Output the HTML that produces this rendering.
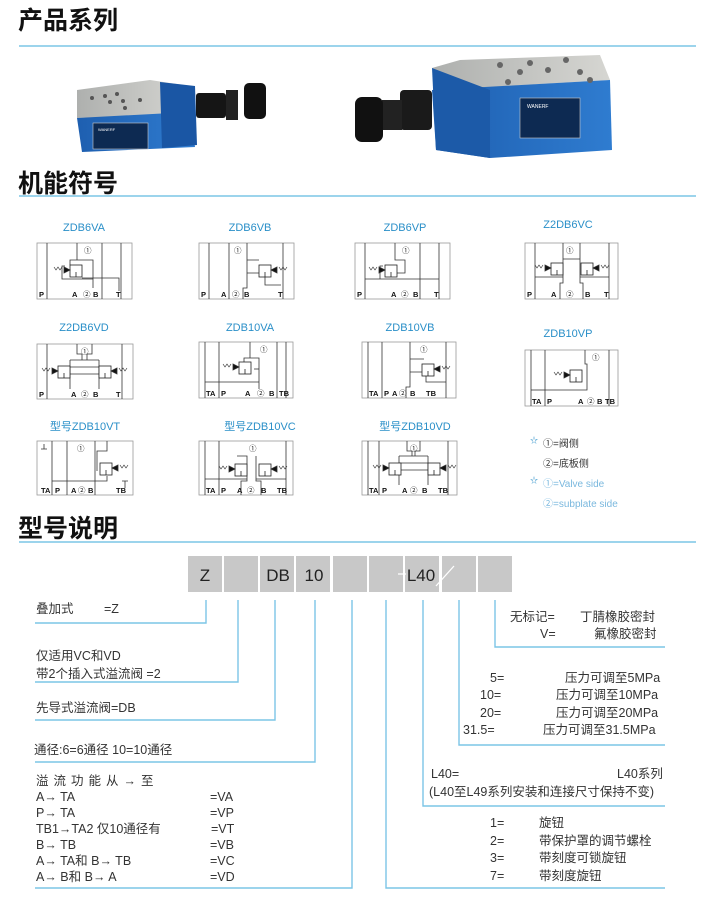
<!DOCTYPE html>
<html><head><meta charset="utf-8"><style>
html,body{margin:0;padding:0;background:#fff;}
body{width:710px;height:900px;overflow:hidden;position:relative;font-family:"Liberation Sans","Noto Sans CJK SC",sans-serif;}
svg{position:absolute;left:0;top:0;}
</style></head><body>
<svg width="710" height="900" viewBox="0 0 710 900" xmlns="http://www.w3.org/2000/svg" font-family="Liberation Sans, Noto Sans CJK SC, sans-serif">
<defs>
<linearGradient id="bl" x1="0" x2="1"><stop offset="0" stop-color="#1e5fb0"/><stop offset="1" stop-color="#2f7cd0"/></linearGradient>
<linearGradient id="gr" x1="0" x2="1"><stop offset="0" stop-color="#aeb0ae"/><stop offset="1" stop-color="#d6d6d2"/></linearGradient>
<g id="valve">
  <rect x="0" y="0" width="12" height="12" fill="#fff" stroke="#222" stroke-width="0.8"/>
  <line x1="6" y1="12" x2="6" y2="7" stroke="#222" stroke-width="0.8"/>
  <path d="M-6 2 l6 3 l-6 3z" fill="#111"/>
  <path d="M-16 2 l2 3 l2-3 l2 3 l2-3" fill="none" stroke="#222" stroke-width="0.6"/>
</g>
<g id="valveR">
  <rect x="0" y="0" width="12" height="12" fill="#fff" stroke="#222" stroke-width="0.8"/>
  <line x1="6" y1="12" x2="6" y2="7" stroke="#222" stroke-width="0.8"/>
  <path d="M18 2 l-6 3 l6 3z" fill="#111"/>
  <path d="M20 2 l2 3 l2-3 l2 3 l2-3" fill="none" stroke="#222" stroke-width="0.6"/>
</g>
</defs>

<!-- headers -->
<g font-weight="bold" fill="#111" font-size="25">
<text x="18" y="29">产品系列</text>
<text x="18" y="192">机能符号</text>
<text x="18" y="537">型号说明</text>
</g>
<g stroke="#7cc5e6" stroke-width="1.5">
<line x1="19" y1="46" x2="696" y2="46"/>
<line x1="19" y1="196" x2="696" y2="196"/>
<line x1="19" y1="542" x2="696" y2="542"/>
</g>

<!-- product left -->
<polygon points="77,90 150,80 190,86 190,115 77,118" fill="url(#gr)"/>
<polygon points="77,118 190,112 195,147 82,152" fill="url(#bl)"/>
<polygon points="160,82 195,86 197,145 162,148" fill="#1a56a4"/>
<rect x="93" y="123" width="55" height="26" fill="#0d2a52" stroke="#ccc" stroke-width="0.6"/>
<text x="98" y="131" font-size="4" fill="#fff">WANERF</text>
<rect x="196" y="93" width="30" height="25" rx="3" fill="#151515"/>
<rect x="226" y="90" width="12" height="30" fill="#222"/>
<rect x="244" y="83" width="22" height="36" rx="5" fill="#111"/>
<!-- product right -->
<polygon points="432,68 460,60 600,55 610,80 440,90" fill="url(#gr)"/>
<polygon points="432,90 610,80 612,150 490,158 436,150" fill="url(#bl)"/>
<polygon points="432,68 490,90 490,158 436,150" fill="#1c5aa8"/>
<rect x="520" y="98" width="60" height="40" fill="#0d2a52" stroke="#ccc" stroke-width="0.6"/>
<text x="527" y="108" font-size="5" fill="#fff">WANERF</text>
<rect x="400" y="90" width="32" height="40" rx="4" fill="#1a1a1a"/>
<rect x="382" y="100" width="20" height="30" fill="#222"/>
<rect x="355" y="97" width="28" height="45" rx="7" fill="#111"/>
<g fill="#666"><circle cx="500" cy="65" r="3"/><circle cx="530" cy="63" r="3"/><circle cx="520" cy="72" r="3"/><circle cx="548" cy="70" r="3"/><circle cx="580" cy="72" r="3"/><circle cx="508" cy="82" r="3"/><circle cx="590" cy="80" r="3"/><circle cx="566" cy="60" r="3"/></g>
<g fill="#555"><circle cx="92" cy="98" r="2"/><circle cx="105" cy="96" r="2"/><circle cx="117" cy="94" r="2"/><circle cx="110" cy="102" r="2"/><circle cx="123" cy="101" r="2"/><circle cx="125" cy="108" r="2"/><circle cx="140" cy="100" r="2"/></g>

<!-- symbol titles -->
<g fill="#2a8fc8" font-size="11" text-anchor="middle">
<text x="84" y="231">ZDB6VA</text>
<text x="250" y="231">ZDB6VB</text>
<text x="405" y="231">ZDB6VP</text>
<text x="568" y="228">Z2DB6VC</text>
<text x="84" y="331">Z2DB6VD</text>
<text x="250" y="331">ZDB10VA</text>
<text x="410" y="331">ZDB10VB</text>
<text x="568" y="337">ZDB10VP</text>
<text x="85" y="430">型号ZDB10VT</text>
<text x="260" y="430">型号ZDB10VC</text>
<text x="415" y="430">型号ZDB10VD</text>
</g>

<g stroke="#333" stroke-width="0.8" fill="none" font-size="7.5">
<!-- ZDB6VA -->
<g transform="translate(37,243)">
<rect width="95" height="56" stroke="#999"/><line x1="10" y1="0" x2="10" y2="56"/><line x1="65" y1="0" x2="65" y2="56"/><line x1="84" y1="0" x2="84" y2="56"/>
<path d="M40 0 V17 H56 V45 M40 17 H33 V22"/><path d="M45 35 H82 V48"/><path d="M28 23 H25 V36 H56"/>
<use href="#valve" x="33" y="22"/>
<g stroke="none" fill="#111" font-weight="bold"><text x="2" y="54">P</text><text x="35" y="54">A</text><text x="56" y="54">B</text><text x="79" y="54">T</text><text x="47" y="10" font-weight="normal">①</text><text x="46" y="54" font-weight="normal">②</text></g>
</g>
<!-- ZDB6VB -->
<g transform="translate(199,243)">
<rect width="95" height="56" stroke="#999"/><line x1="10" y1="0" x2="10" y2="56"/><line x1="30" y1="0" x2="30" y2="56"/><line x1="84" y1="0" x2="84" y2="56"/>
<path d="M48 0 V17 H60 M48 17 V45 H44 V56"/><path d="M48 30 H66 V42 H82"/>
<use href="#valveR" x="60" y="22"/>
<g stroke="none" fill="#111" font-weight="bold"><text x="2" y="54">P</text><text x="22" y="54">A</text><text x="45" y="54">B</text><text x="79" y="54">T</text><text x="35" y="10" font-weight="normal">①</text><text x="33" y="54" font-weight="normal">②</text></g>
</g>
<!-- ZDB6VP -->
<g transform="translate(355,243)">
<rect width="95" height="56" stroke="#999"/><line x1="10" y1="0" x2="10" y2="56"/><line x1="65" y1="0" x2="65" y2="56"/><line x1="84" y1="0" x2="84" y2="56"/>
<path d="M40 0 V17 H50 V30 H42"/><path d="M10 36 H84"/><path d="M28 23 H25 V36"/>
<use href="#valve" x="30" y="22"/>
<g stroke="none" fill="#111" font-weight="bold"><text x="2" y="54">P</text><text x="36" y="54">A</text><text x="58" y="54">B</text><text x="79" y="54">T</text><text x="47" y="10" font-weight="normal">①</text><text x="46" y="54" font-weight="normal">②</text></g>
</g>
<!-- Z2DB6VC -->
<g transform="translate(525,243)">
<rect width="93" height="56" stroke="#999"/><line x1="10" y1="0" x2="10" y2="56"/><line x1="84" y1="0" x2="84" y2="56"/>
<path d="M38 0 V16 H55 V0 M38 16 V40 H35 V56 M55 16 V40 H58 V56"/><path d="M10 34 H38 M55 34 H84"/>
<use href="#valve" x="26" y="20"/><use href="#valveR" x="56" y="20"/>
<g stroke="none" fill="#111" font-weight="bold"><text x="2" y="54">P</text><text x="26" y="54">A</text><text x="60" y="54">B</text><text x="79" y="54">T</text><text x="41" y="10" font-weight="normal">①</text><text x="41" y="54" font-weight="normal">②</text></g>
</g>
<!-- Z2DB6VD -->
<g transform="translate(37,344)">
<rect width="96" height="55" stroke="#999"/><line x1="10" y1="0" x2="10" y2="55"/><line x1="85" y1="0" x2="85" y2="55"/>
<path d="M40 0 V10 H45 V16 M55 0 V10 H50 V16"/><path d="M33 16 H62 M33 23 H62 M33 30 H62 V40 M33 16 V45 M62 16 V45"/>
<use href="#valve" x="21" y="22"/><use href="#valveR" x="62" y="22"/>
<g stroke="none" fill="#111" font-weight="bold"><text x="2" y="53">P</text><text x="34" y="53">A</text><text x="56" y="53">B</text><text x="79" y="53">T</text><text x="44" y="10" font-weight="normal">①</text><text x="44" y="53" font-weight="normal">②</text></g>
</g>
<!-- ZDB10VA -->
<g transform="translate(199,342)">
<rect width="94" height="56" stroke="#999"/><line x1="6" y1="0" x2="6" y2="56"/><line x1="20" y1="0" x2="20" y2="56"/><line x1="78" y1="0" x2="78" y2="56"/><line x1="87" y1="0" x2="87" y2="56"/>
<path d="M51 0 V16 H60 V47 M51 16 H45 V20"/><path d="M6 40 H60"/><path d="M60 27 H55"/>
<use href="#valve" x="40" y="20"/>
<g stroke="none" fill="#111" font-weight="bold"><text x="7" y="54">TA</text><text x="22" y="54">P</text><text x="46" y="54">A</text><text x="70" y="54">B</text><text x="80" y="54">TB</text><text x="61" y="10" font-weight="normal">①</text><text x="58" y="54" font-weight="normal">②</text></g>
</g>
<!-- ZDB10VB -->
<g transform="translate(362,342)">
<rect width="94" height="56" stroke="#999"/><line x1="6" y1="0" x2="6" y2="56"/><line x1="20" y1="0" x2="20" y2="56"/><line x1="84" y1="0" x2="84" y2="56"/>
<path d="M48 0 V17 H62 M48 17 V45 H44 V56"/><path d="M48 30 H64 V40 H84"/>
<use href="#valveR" x="60" y="22"/>
<g stroke="none" fill="#111" font-weight="bold"><text x="7" y="54">TA</text><text x="22" y="54">P</text><text x="30" y="54">A</text><text x="48" y="54">B</text><text x="64" y="54">TB</text><text x="58" y="10" font-weight="normal">①</text><text x="37" y="54" font-weight="normal">②</text></g>
</g>
<!-- ZDB10VP -->
<g transform="translate(525,350)">
<rect width="93" height="56" stroke="#999"/><line x1="6" y1="0" x2="6" y2="56"/><line x1="20" y1="0" x2="20" y2="56"/><line x1="84" y1="0" x2="84" y2="56"/>
<path d="M60 0 V14 H62 V40 H20"/><path d="M6 40 H20"/>
<use href="#valve" x="45" y="20"/>
<g stroke="none" fill="#111" font-weight="bold"><text x="7" y="54">TA</text><text x="22" y="54">P</text><text x="53" y="54">A</text><text x="72" y="54">B</text><text x="80" y="54">TB</text><text x="67" y="10" font-weight="normal">①</text><text x="62" y="54" font-weight="normal">②</text></g>
</g>
<!-- ZDB10VT -->
<g transform="translate(37,441)">
<rect width="96" height="54" stroke="#999"/><line x1="15" y1="0" x2="15" y2="54"/><line x1="30" y1="0" x2="30" y2="54"/><line x1="58" y1="0" x2="58" y2="54"/>
<path d="M7 3 V8 M4 8 H10 M88 40 V47 M85 40 H91"/><path d="M70 0 V10 H60 V30 M70 35 V40 H30 M30 40 H15"/>
<use href="#valveR" x="63" y="22"/>
<g stroke="none" fill="#111" font-weight="bold"><text x="4" y="52">TA</text><text x="18" y="52">P</text><text x="34" y="52">A</text><text x="51" y="52">B</text><text x="79" y="52">TB</text><text x="40" y="10" font-weight="normal">①</text><text x="41" y="52" font-weight="normal">②</text></g>
</g>
<!-- ZDB10VC -->
<g transform="translate(199,441)">
<rect width="94" height="54" stroke="#999"/><line x1="6" y1="0" x2="6" y2="54"/><line x1="20" y1="0" x2="20" y2="54"/><line x1="87" y1="0" x2="87" y2="54"/>
<path d="M38 15 H48 V40 H42 V54 M57 15 V40 H62 V54"/><path d="M6 38 H48 M57 38 H87"/>
<use href="#valve" x="36" y="23"/><use href="#valveR" x="60" y="23"/>
<g stroke="none" fill="#111" font-weight="bold"><text x="7" y="52">TA</text><text x="22" y="52">P</text><text x="38" y="52">A</text><text x="62" y="52">B</text><text x="78" y="52">TB</text><text x="50" y="10" font-weight="normal">①</text><text x="48" y="52" font-weight="normal">②</text></g>
</g>
<!-- ZDB10VD -->
<g transform="translate(362,441)">
<rect width="95" height="54" stroke="#999"/><line x1="6" y1="0" x2="6" y2="54"/><line x1="17" y1="0" x2="17" y2="54"/><line x1="86" y1="0" x2="86" y2="54"/>
<path d="M45 0 V10 H50 V15 M58 0 V10 H53 V15"/><path d="M37 15 H66 M37 22 H66 M37 29 H66 M37 15 V44 M66 15 V44"/>
<use href="#valve" x="27" y="22"/><use href="#valveR" x="66" y="22"/>
<g stroke="none" fill="#111" font-weight="bold"><text x="7" y="52">TA</text><text x="20" y="52">P</text><text x="40" y="52">A</text><text x="60" y="52">B</text><text x="76" y="52">TB</text><text x="48" y="10" font-weight="normal">①</text><text x="48" y="52" font-weight="normal">②</text></g>
</g>
</g>

<!-- legend -->
<g font-size="10">
<text x="530" y="443" font-size="8" fill="#2a8fc8">☆</text>
<text x="543" y="447" fill="#333">①=阀侧</text>
<text x="543" y="467" fill="#333">②=底板侧</text>
<text x="530" y="483" font-size="8" fill="#2a8fc8">☆</text>
<text x="543" y="487" fill="#7ab8de">①=Valve side</text>
<text x="543" y="507" fill="#7ab8de">②=subplate side</text>
</g>

<!-- model code boxes -->
<g fill="#c8c8c8">
<rect x="188" y="556" width="34" height="36"/><rect x="224" y="556" width="34" height="36"/><rect x="260" y="556" width="34" height="36"/><rect x="296" y="556" width="34" height="36"/><rect x="333" y="556" width="34" height="36"/><rect x="369" y="556" width="34" height="36"/><rect x="405" y="556" width="34" height="36"/><rect x="442" y="556" width="34" height="36"/><rect x="478" y="556" width="34" height="36"/>
</g>
<g font-size="17" fill="#222" text-anchor="middle">
<text x="205" y="581">Z</text><text x="278" y="581">DB</text><text x="314" y="581">10</text><text x="421" y="581">L40</text>
</g>
<path d="M398 574 H406 M436 586 L454 566" stroke="#fff" stroke-width="1.3"/>

<g stroke="#7cc5e6" stroke-width="1.4" fill="none">
<path d="M206 600 V623 H35"/>
<path d="M238 600 V682 H35"/>
<path d="M275 600 V720 H35"/>
<path d="M315 600 V762 H35"/>
<path d="M352 600 V888 H35"/>
<path d="M386 600 V888 H665"/>
<path d="M423 600 V806 H665"/>
<path d="M459 600 V745 H665"/>
<path d="M495 600 V647 H665"/>
</g>

<g font-size="12.5" fill="#333">
<text x="36" y="613">叠加式</text><text x="104" y="613">=Z</text>
<text x="36" y="660">仅适用VC和VD</text>
<text x="36" y="678">带2个插入式溢流阀  =2</text>
<text x="36" y="712">先导式溢流阀=DB</text>
<text x="34" y="754">通径:6=6通径  10=10通径</text>
<text x="36" y="785" letter-spacing="5">溢流功能从→至</text>
<text x="36" y="801">A→ TA</text><text x="210" y="801">=VA</text>
<text x="36" y="817">P→ TA</text><text x="210" y="817">=VP</text>
<text x="36" y="833">TB1→TA2   仅10通径有</text><text x="211" y="833">=VT</text>
<text x="36" y="849">B→ TB</text><text x="210" y="849">=VB</text>
<text x="36" y="865">A→ TA和 B→ TB</text><text x="210" y="865">=VC</text>
<text x="36" y="881">A→ B和 B→ A</text><text x="210" y="881">=VD</text>

<text x="510" y="621">无标记=</text><text x="580" y="621">丁腈橡胶密封</text>
<text x="540" y="638">V=</text><text x="594" y="638">氟橡胶密封</text>
<text x="490" y="682">5=</text><text x="565" y="682">压力可调至5MPa</text>
<text x="480" y="699">10=</text><text x="556" y="699">压力可调至10MPa</text>
<text x="480" y="717">20=</text><text x="556" y="717">压力可调至20MPa</text>
<text x="463" y="734">31.5=</text><text x="543" y="734">压力可调至31.5MPa</text>
<text x="431" y="778">L40=</text><text x="617" y="778">L40系列</text>
<text x="429" y="796">(L40至L49系列安装和连接尺寸保持不变)</text>
<text x="490" y="827">1=</text><text x="539" y="827">旋钮</text>
<text x="490" y="845">2=</text><text x="539" y="845">带保护罩的调节螺栓</text>
<text x="490" y="862">3=</text><text x="539" y="862">带刻度可锁旋钮</text>
<text x="490" y="880">7=</text><text x="539" y="880">带刻度旋钮</text>
</g>
</svg>
</body></html>
